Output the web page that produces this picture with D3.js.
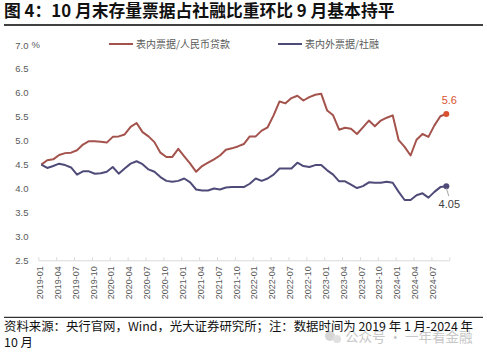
<!DOCTYPE html>
<html lang="zh">
	<head>
		<meta charset="utf-8">
		<title>存量票据占社融比重</title>
		<script type="text/javascript" src="https://cdn.jsdelivr.net/npm/d3@7"></script>
		<style type="text/css">
			body { margin: 0; background: #fff; }
			text { font-family: "Liberation Sans", Arial, "Noto Sans CJK SC", sans-serif; }
			.cjk { font-family: "Noto Sans CJK SC", sans-serif; }
		</style>
	</head>
	<body>
		<script type="text/javascript">
			var w = 487;
			var h = 352;

			// months shown on the category axis (one per data point)
			var months = [
				"2019-01","2019-02","2019-03","2019-04","2019-05","2019-06","2019-07","2019-08","2019-09","2019-10","2019-11","2019-12",
				"2020-01","2020-02","2020-03","2020-04","2020-05","2020-06","2020-07","2020-08","2020-09","2020-10","2020-11","2020-12",
				"2021-01","2021-02","2021-03","2021-04","2021-05","2021-06","2021-07","2021-08","2021-09","2021-10","2021-11","2021-12",
				"2022-01","2022-02","2022-03","2022-04","2022-05","2022-06","2022-07","2022-08","2022-09","2022-10","2022-11","2022-12",
				"2023-01","2023-02","2023-03","2023-04","2023-05","2023-06","2023-07","2023-08","2023-09","2023-10","2023-11","2023-12",
				"2024-01","2024-02","2024-03","2024-04","2024-05","2024-06","2024-07","2024-08","2024-09"
			];

			// 表内票据/人民币贷款 (%)
			var loanRatio = [
				4.50, 4.59, 4.61, 4.70, 4.74, 4.75, 4.80, 4.92, 4.99, 4.99, 4.98, 4.96,
				5.08, 5.09, 5.13, 5.29, 5.37, 5.18, 5.09, 4.97, 4.75, 4.66, 4.66, 4.83,
				4.67, 4.52, 4.35, 4.47, 4.54, 4.61, 4.69, 4.81, 4.84, 4.88, 4.93, 5.09,
				5.09, 5.21, 5.28, 5.53, 5.82, 5.78, 5.89, 5.94, 5.84, 5.91, 5.96, 5.98,
				5.63, 5.53, 5.23, 5.27, 5.25, 5.14, 5.28, 5.42, 5.30, 5.42, 5.48, 5.53,
				5.01, 4.87, 4.69, 5.02, 5.14, 5.08, 5.32, 5.51, 5.56
			];

			// 表内外票据/社融 (%)
			var tsfRatio = [
				4.50, 4.43, 4.47, 4.52, 4.49, 4.44, 4.29, 4.36, 4.36, 4.31, 4.32, 4.35,
				4.45, 4.31, 4.42, 4.52, 4.57, 4.51, 4.40, 4.35, 4.24, 4.16, 4.14, 4.16,
				4.21, 4.13, 3.98, 3.96, 3.96, 4.00, 3.98, 4.02, 4.03, 4.03, 4.03, 4.10,
				4.21, 4.16, 4.21, 4.29, 4.42, 4.42, 4.42, 4.54, 4.47, 4.45, 4.49, 4.49,
				4.38, 4.29, 4.15, 4.15, 4.08, 4.01, 4.05, 4.13, 4.12, 4.12, 4.14, 4.12,
				3.93, 3.76, 3.76, 3.86, 3.90, 3.81, 3.93, 4.03, 4.05
			];

			var seriesNames = ["表内票据/人民币贷款", "表内外票据/社融"];
			var yTicks = [2.5, 3.0, 3.5, 4.0, 4.5, 5.0, 5.5, 6.0, 6.5, 7.0];
			var xTickLabels = [
				"2019-01","2019-04","2019-07","2019-10","2020-01","2020-04","2020-07","2020-10",
				"2021-01","2021-04","2021-07","2021-10","2022-01","2022-04","2022-07","2022-10",
				"2023-01","2023-04","2023-07","2023-10","2024-01","2024-04","2024-07"
			];
			var lastLabels = ["5.6", "4.05"];

			var red = "#a4524c";
			var purple = "#4f4b79";

			var svg = d3.select("body")
						.append("svg")
						.attr("width", w)
						.attr("height", h);

			// scales
			var xScale = d3.scaleBand()
				.domain(months)
				.range([38.3, 449.3]);

			var xTick = d3.scaleLinear()
				.domain([0, months.length])
				.range(xScale.range());

			var yScale = d3.scaleLinear()
				.domain([2.5, 7.0])
				.range([260.3, 45]);

			function cx(d, i) { return xScale(months[i]) + xScale.bandwidth() / 2; }

			// title
			svg.append("text")
				.attr("class", "cjk")
				.attr("x", 4)
				.attr("y", 16.5)
				.style("font-size", "16.8px")
				.style("font-weight", "bold")
				.style("fill", "#111")
				.text("图 4：10 月末存量票据占社融比重环比 9 月基本持平");

			svg.append("line")
				.attr("x1", 4).attr("x2", 483)
				.attr("y1", 25).attr("y2", 25)
				.style("stroke", "#000")
				.style("stroke-width", 1.3);

			// y axis (labels only)
			var yAxis = svg.append("g")
				.attr("transform", "translate(28.5,0)")
				.call(d3.axisLeft(yScale).tickValues(yTicks).tickSize(0).tickPadding(0).tickFormat(d3.format(".1f")));
			yAxis.select(".domain").remove();
			yAxis.selectAll("text")
				.style("font-family", "'Liberation Sans', Arial, sans-serif")
				.style("font-size", "9.5px")
				.style("fill", "#595959");

			svg.append("text")
				.attr("x", 31.5)
				.attr("y", yScale(7.0))
				.attr("dy", "0.32em")
				.style("font-size", "9.5px")
				.style("fill", "#595959")
				.text("%");

			// x axis
			var tickIdx = xTickLabels.map(function(m) { return months.indexOf(m); });
			tickIdx.push(months.length);

			var xAxis = svg.append("g")
				.attr("transform", "translate(0," + yScale(2.5) + ")")
				.call(d3.axisBottom(xTick)
					.tickValues(tickIdx)
					.tickSizeInner(-3)
					.tickSizeOuter(0)
					.tickFormat(function(d) { return d < months.length ? months[d] : ""; }));
			xAxis.select(".domain").style("stroke", "#d9d9d9");
			xAxis.selectAll(".tick line").style("stroke", "#d9d9d9");
			xAxis.selectAll("text")
				.attr("transform", "rotate(-90)")
				.attr("x", -6)
				.attr("y", 1)
				.attr("dy", "0.35em")
				.style("text-anchor", "end")
				.style("font-family", "'Liberation Sans', Arial, sans-serif")
				.style("font-size", "9px")
				.style("fill", "#595959");

			// lines
			var line = d3.line()
				.x(cx)
				.y(function(d) { return yScale(d); });

			svg.append("path")
				.datum(loanRatio)
				.attr("d", line)
				.style("fill", "none")
				.style("stroke", red)
				.style("stroke-width", 2)
				.style("stroke-linejoin", "round");

			svg.append("path")
				.datum(tsfRatio)
				.attr("d", line)
				.style("fill", "none")
				.style("stroke", purple)
				.style("stroke-width", 2)
				.style("stroke-linejoin", "round");

			// end markers + labels
			var n = months.length - 1;
			svg.append("circle")
				.attr("cx", cx(null, n))
				.attr("cy", yScale(loanRatio[n]))
				.attr("r", 3)
				.style("fill", "#da5130");

			svg.append("text")
				.attr("x", cx(null, n) + 3)
				.attr("y", yScale(loanRatio[n]) - 10)
				.style("text-anchor", "middle")
				.style("font-size", "11px")
				.style("fill", "#da5130")
				.text(lastLabels[0]);

			svg.append("circle")
				.attr("cx", cx(null, n))
				.attr("cy", yScale(tsfRatio[n]))
				.attr("r", 3)
				.style("fill", purple);

			svg.append("line")
				.attr("x1", cx(null, n))
				.attr("y1", yScale(tsfRatio[n]) + 2)
				.attr("x2", cx(null, n) + 2.5)
				.attr("y2", yScale(tsfRatio[n]) + 10)
				.style("stroke", "#a6a6a6")
				.style("stroke-width", 1);

			svg.append("text")
				.attr("x", cx(null, n) + 3)
				.attr("y", yScale(tsfRatio[n]) + 21.5)
				.style("text-anchor", "middle")
				.style("font-size", "11px")
				.style("fill", "#404040")
				.text(lastLabels[1]);

			// legend
			var legend = svg.selectAll(".legend")
				.data([{ name: seriesNames[0], color: red, x: 109 }, { name: seriesNames[1], color: purple, x: 278 }])
				.enter()
				.append("g")
				.attr("transform", function(d) { return "translate(" + d.x + ",44)"; });

			legend.append("line")
				.attr("x1", 0).attr("x2", 24)
				.style("stroke", function(d) { return d.color; })
				.style("stroke-width", 2);

			legend.append("text")
				.attr("class", "cjk")
				.attr("x", 27)
				.attr("dy", "0.35em")
				.style("font-size", "10px")
				.style("fill", "#595959")
				.text(function(d) { return d.name; });

			// source note
			svg.append("line")
				.attr("x1", 4).attr("x2", 483)
				.attr("y1", 317.3).attr("y2", 317.3)
				.style("stroke", "#000")
				.style("stroke-width", 1);

			// watermark (drawn under the note text)
			svg.append("circle").attr("cx", 330).attr("cy", 336).attr("r", 5).style("fill", "#d6d6d6");
			svg.append("circle").attr("cx", 337).attr("cy", 339).attr("r", 4).style("fill", "#e0e0e0");
			svg.append("text")
				.attr("class", "cjk")
				.attr("x", 345)
				.attr("y", 342)
				.style("font-size", "13.5px")
				.style("fill", "#c8c8c8")
				.text("公众号 · 一年看金融");

			svg.append("text")
				.attr("class", "cjk")
				.attr("x", 4)
				.attr("y", 330.5)
				.style("font-size", "12.4px")
				.style("fill", "#111")
				.text("资料来源：央行官网，Wind，光大证券研究所；注：数据时间为 2019 年 1 月-2024 年");

			svg.append("text")
				.attr("class", "cjk")
				.attr("x", 4)
				.attr("y", 346.5)
				.style("font-size", "12.4px")
				.style("fill", "#111")
				.text("10 月");
		</script>
	</body>
</html>
